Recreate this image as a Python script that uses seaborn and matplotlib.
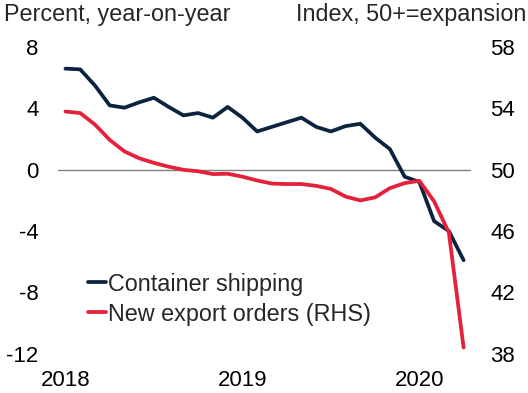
import pandas as pd
import seaborn as sns
import matplotlib.pyplot as plt

# monthly, Jan 2018 - Apr 2020
months = pd.date_range("2018-01-01", "2020-04-01", freq="MS")
container_shipping = [6.6, 6.55, 5.5, 4.2, 4.05, 4.4, 4.7, 4.1, 3.55, 3.7, 3.4, 4.1,
                      3.4, 2.5, 2.8, 3.1, 3.4, 2.8, 2.5, 2.85, 3.0, 2.1, 1.35, -0.45,
                      -0.8, -3.35, -4.0, -5.9]
new_export_orders = [53.8, 53.7, 52.95, 51.95, 51.2, 50.75, 50.45, 50.2, 50.0, 49.9, 49.72, 49.74,
                     49.55, 49.3, 49.1, 49.07, 49.07, 48.95, 48.75, 48.25, 48.0, 48.2, 48.8, 49.13,
                     49.28, 47.94, 45.9, 38.4]
year_labels = ["2018", "2019", "2020"]

df = pd.DataFrame({"t": range(len(months)),
                   "ship": container_shipping,
                   "orders": new_export_orders})

sns.set_style("white")
plt.rcParams['font.family'] = ['Liberation Sans', 'DejaVu Sans']
plt.rcParams['axes.unicode_minus'] = False

navy = "#0c2340"
red = "#e5203a"
fs = 16

fig, ax = plt.subplots(figsize=(5.28, 3.93), dpi=100)
fig.subplots_adjust(left=0.11, right=0.892, top=0.88, bottom=0.1)
ax2 = ax.twinx()

ax.axhline(0, color="#808080", lw=1, zorder=1)
sns.lineplot(data=df, x="t", y="ship", ax=ax, color=navy, lw=2.7, zorder=3)
sns.lineplot(data=df, x="t", y="orders", ax=ax2, color=red, lw=2.7, zorder=3)

ax.set_xlim(-0.5, 27.5)
ax.set_ylim(-12, 8)
ax2.set_ylim(38, 58)
ax.set_yticks([-12, -8, -4, 0, 4, 8])
ax2.set_yticks([38, 42, 46, 50, 54, 58])
ax.set_xticks([0, 12, 24])
ax.set_xticklabels(year_labels)

for a in (ax, ax2):
    a.set_xlabel("")
    a.set_ylabel("")
    for s in a.spines.values():
        s.set_visible(False)
    a.tick_params(length=0, labelsize=fs, colors="black")
ax.tick_params(axis="x", pad=12)
ax.tick_params(axis="y", pad=14)
ax2.tick_params(axis="y", pad=14)

fig.text(0.008, 0.962, "Percent, year-on-year", fontsize=16.8, va="center", ha="left")
fig.text(0.997, 0.962, "Index, 50+=expansion", fontsize=16.8, va="center", ha="right")

h1 = ax.get_lines()[-1]
h2 = ax2.get_lines()[-1]
ax.legend([h1, h2], ["Container shipping", "New export orders (RHS)"],
          loc="center left", bbox_to_anchor=(0.072, 0.178), frameon=False,
          fontsize=16.8, handlelength=0.8, handletextpad=0.05, labelspacing=0.3,
          borderaxespad=0, borderpad=0)

fig.savefig("out.png", dpi=100)
